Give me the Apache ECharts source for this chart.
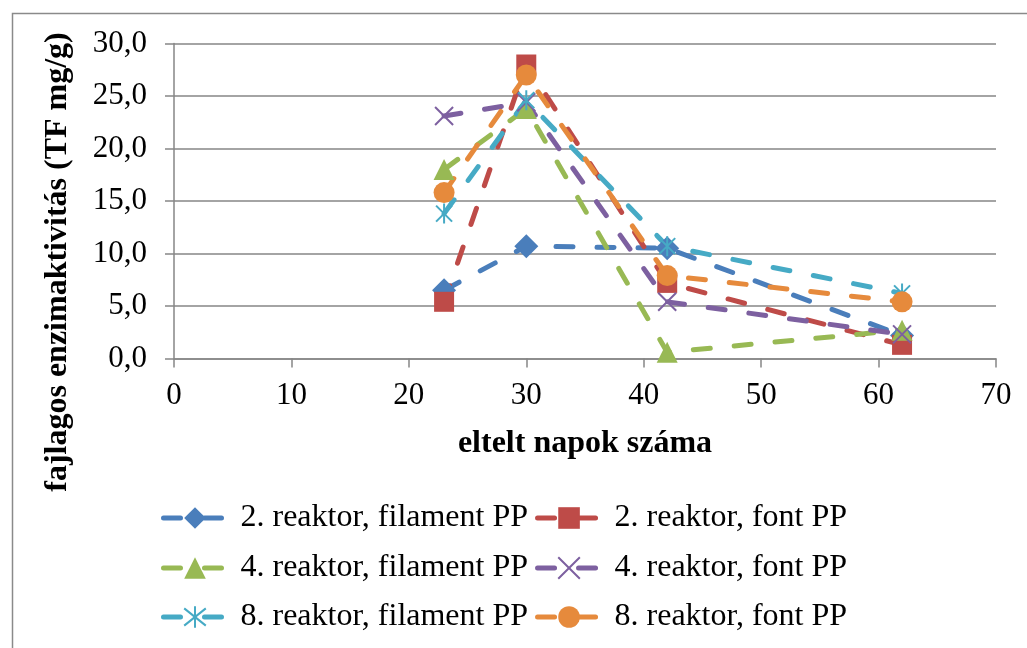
<!DOCTYPE html>
<html>
<head>
<meta charset="utf-8">
<script src="https://cdn.jsdelivr.net/npm/echarts@6/dist/echarts.min.js"></script>
<style>
  html, body { margin: 0; padding: 0; background: #ffffff; }
  #chart { width: 1027px; height: 648px; }
</style>
</head>
<body>
<div id="chart"></div>
<script>
// Elapsed days at each sampling
var days = [23, 30, 42, 62];

// Specific enzyme activity (TF mg/g) per reactor and carrier
var r2Filament = [6.5, 10.7, 10.5, 2.2];
var r2Font     = [5.4, 28.0, 7.2, 1.3];
var r4Filament = [18.0, 23.8, 0.6, 2.7];
var r4Font     = [23.1, 24.4, 5.4, 2.3];
var r8Filament = [13.8, 24.6, 10.7, 6.2];
var r8Font     = [15.8, 27.0, 7.9, 5.4];

var seriesNames = [
  '2. reaktor, filament PP',
  '2. reaktor, font PP',
  '4. reaktor, filament PP',
  '4. reaktor, font PP',
  '8. reaktor, filament PP',
  '8. reaktor, font PP'
];

var yTicks = ['0,0', '5,0', '10,0', '15,0', '20,0', '25,0', '30,0'];

var FONT = '"Liberation Serif", "Times New Roman", serif';

var X_PATH = 'path://M0,0L20,20M20,0L0,20';
var STAR_PATH = 'path://M2,2L18,18M18,2L2,18M10,0L10,20';

function pairs(values) {
  return values.map(function (v, i) { return [days[i], v]; });
}

function lineSeries(name, values, color, symbol, size, stroked) {
  return {
    name: name,
    type: 'line',
    data: pairs(values),
    symbol: symbol,
    symbolSize: size,
    symbolKeepAspect: true,
    showAllSymbol: true,
    lineStyle: { color: color, width: 5, type: [17, 24], cap: 'round' },
    itemStyle: stroked
      ? { color: color, borderColor: color, borderWidth: 2 }
      : { color: color, borderWidth: 0 },
    emphasis: { disabled: true },
    animation: false
  };
}

var legendBase = {
  orient: 'horizontal',
  left: 161,
  padding: 0,
  itemWidth: 63,
  itemHeight: 27,
  itemGap: 7,
  selectedMode: false,
  lineStyle: { width: 5, cap: 'round' },
  textStyle: { fontFamily: FONT, fontSize: 32, color: '#000', padding: [0, 0, 0, 9] }
};

function legendRow(names, top) {
  var l = Object.assign({}, legendBase);
  l.data = names;
  l.top = top;
  return l;
}

var chart = echarts.init(document.getElementById('chart'), null, { renderer: 'canvas' });

chart.setOption({
  backgroundColor: '#ffffff',
  animation: false,
  grid: { left: 174, right: 31, top: 43.5, bottom: 289.5, containLabel: false },
  xAxis: {
    type: 'value',
    min: 0,
    max: 70,
    interval: 10,
    splitLine: { show: false },
    axisLine: { show: true, onZero: false, lineStyle: { color: '#868686', width: 1.5 } },
    axisTick: { show: true, inside: false, length: 9, lineStyle: { color: '#868686', width: 1.5 } },
    axisLabel: { fontFamily: FONT, fontSize: 31, color: '#000', margin: 22 },
    name: 'eltelt napok száma',
    nameLocation: 'middle',
    nameGap: 69,
    nameTextStyle: { fontFamily: FONT, fontSize: 32, fontWeight: 'bold', color: '#000' }
  },
  yAxis: {
    type: 'value',
    min: 0,
    max: 30,
    interval: 5,
    splitLine: { show: true, lineStyle: { color: '#868686', width: 1.5 } },
    axisLine: { show: true, lineStyle: { color: '#868686', width: 1.5 } },
    axisTick: { show: true, inside: false, length: 9, lineStyle: { color: '#868686', width: 1.5 } },
    axisLabel: {
      fontFamily: FONT, fontSize: 31, color: '#000', margin: 27,
      formatter: function (v) { return yTicks[Math.round(v / 5)]; }
    }
  },
  legend: [
    legendRow([seriesNames[0], seriesNames[1]], 502),
    legendRow([seriesNames[2], seriesNames[3]], 552),
    legendRow([seriesNames[4], seriesNames[5]], 601)
  ],
  graphic: [
    {
      type: 'rect',
      shape: { x: 12.5, y: 13.5, width: 1200, height: 1000 },
      style: { fill: 'none', stroke: '#8a8a8a', lineWidth: 1.5 },
      silent: true
    },
    {
      type: 'text',
      x: 58,
      y: 262,
      rotation: Math.PI / 2,
      style: {
        text: 'fajlagos enzimaktivitás (TF mg/g)',
        fontFamily: FONT,
        fontSize: 32,
        fontWeight: 'bold',
        fill: '#000',
        align: 'center',
        verticalAlign: 'middle'
      },
      silent: true
    }
  ],
  series: [
    lineSeries(seriesNames[0], r2Filament, '#4A7EBB', 'diamond', 24, false),
    lineSeries(seriesNames[1], r2Font, '#BE4B48', 'rect', 20, false),
    lineSeries(seriesNames[2], r4Filament, '#98B954', 'triangle', 21, false),
    lineSeries(seriesNames[3], r4Font, '#7D60A0', X_PATH, 18, true),
    lineSeries(seriesNames[4], r8Filament, '#46AAC5', STAR_PATH, 20, true),
    lineSeries(seriesNames[5], r8Font, '#E68A3C', 'circle', 21, false)
  ]
});
</script>
</body>
</html>
